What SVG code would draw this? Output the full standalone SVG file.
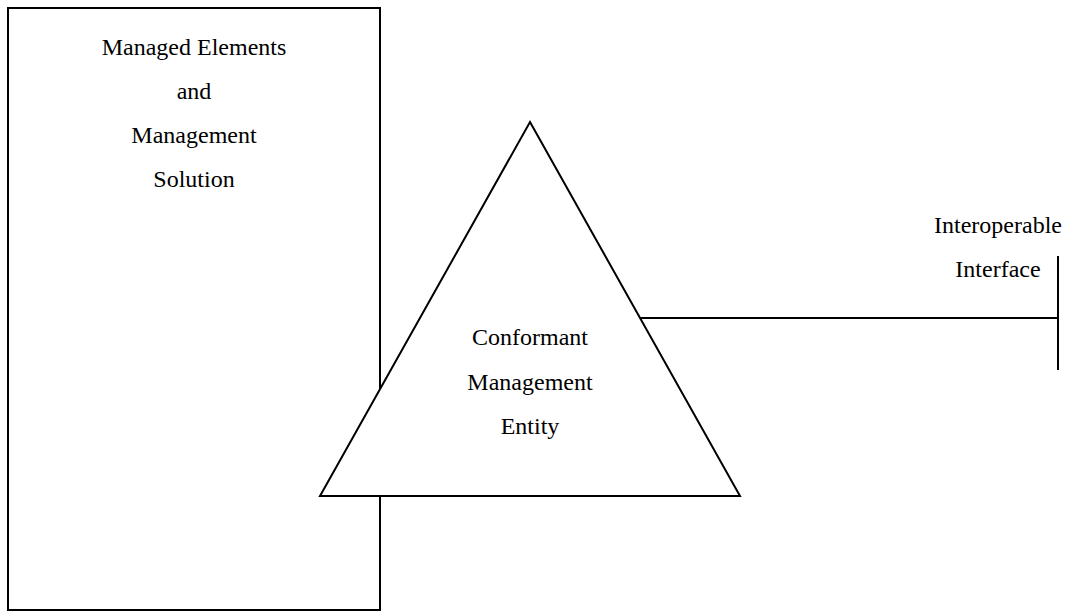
<svg xmlns="http://www.w3.org/2000/svg" width="1071" height="615" viewBox="0 0 1071 615">
<style>
.shape{fill:#fff;stroke:#000;stroke-width:2}
.ln{fill:none;stroke:#000;stroke-width:2}
text{font-family:"Liberation Serif","Times New Roman",serif;font-size:24px;fill:#000;text-anchor:middle}
</style>
<rect width="1071" height="615" fill="#fff"/>
<g id="managed-elements">
<rect class="shape" x="8" y="8" width="372" height="602"/>
<text x="194" y="55">Managed Elements</text>
<text x="194" y="99">and</text>
<text x="194" y="143">Management</text>
<text x="194" y="187">Solution</text>
</g>
<g id="conformant-entity">
<polygon class="shape" points="530,122 740,496 320,496"/>
<text x="530" y="345">Conformant</text>
<text x="530" y="390">Management</text>
<text x="530" y="434">Entity</text>
</g>
<g id="connectors">
<line class="ln" x1="640" y1="318" x2="1058" y2="318"/>
</g>
<g id="interoperable-interface">
<line class="ln" x1="1058" y1="256" x2="1058" y2="370"/>
<text x="998" y="233">Interoperable</text>
<text x="998" y="277">Interface</text>
</g>
</svg>
